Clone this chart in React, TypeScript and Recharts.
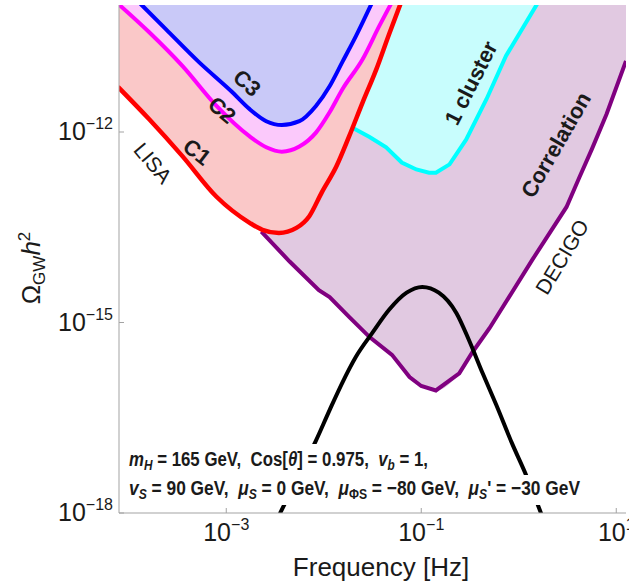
import React from "react";
import { ComposedChart, Area, Line, XAxis, YAxis } from "recharts";

// everything in log10: frequency [Hz] on x, Omega_GW h^2 on y
const X_MIN = -4.1;
const X_MAX = 1.1;
const Y_MIN = -18;
const Y_MAX = -10;

const c1Freq = [-4.11, -3.79, -3.45, -3.1, -2.76, -2.63, -2.46, -2.28, -2.15, -2.02, -1.87, -1.74, -1.6, -1.46, -1.33, -1.21];
const c1Omega = [-11.29, -11.8, -12.38, -13.02, -13.43, -13.54, -13.59, -13.51, -13.33, -12.95, -12.54, -12.07, -11.53, -11.01, -10.46, -9.97];

const c2Freq = [-4.11, -3.79, -3.45, -3.1, -2.76, -2.59, -2.43, -2.25, -2.08, -1.94, -1.81, -1.6, -1.43, -1.31];
const c2Omega = [-9.98, -10.43, -10.96, -11.59, -12.07, -12.24, -12.31, -12.23, -12.01, -11.69, -11.33, -10.85, -10.33, -9.98];

const c3Freq = [-3.88, -3.62, -3.28, -2.94, -2.76, -2.59, -2.43, -2.25, -2.08, -1.94, -1.81, -1.67, -1.51];
const c3Omega = [-9.98, -10.38, -10.9, -11.37, -11.64, -11.83, -11.89, -11.83, -11.59, -11.28, -10.9, -10.49, -9.98];

const clusterFreq = [-1.71, -1.53, -1.36, -1.2, -1.05, -0.92, -0.85, -0.71, -0.54, -0.33, -0.13, 0.19];
const clusterOmega = [-11.93, -12.08, -12.24, -12.48, -12.59, -12.64, -12.64, -12.51, -12.12, -11.48, -10.8, -9.98];

const decigoFreq = [-2.64, -2.35, -2.05, -1.94, -1.74, -1.53, -1.3, -1.12, -1.0, -0.85, -0.61, -0.48, -0.3, -0.1, 0.14, 0.49, 0.62, 0.75, 0.9, 1.1];
const decigoOmega = [-13.57, -14.04, -14.49, -14.6, -14.91, -15.23, -15.51, -15.86, -16.0, -16.07, -15.8, -15.48, -15.09, -14.6, -14.01, -13.18, -12.72, -12.27, -11.72, -10.88];

const signalFreq = [-2.45, -2.25, -2.08, -1.94, -1.81, -1.67, -1.5, -1.33, -1.15, -0.99, -0.82, -0.64, -0.51, -0.37, -0.23, -0.07, 0.08, 0.23];
const signalOmega = [-18.01, -17.39, -16.86, -16.38, -15.95, -15.54, -15.16, -14.8, -14.53, -14.44, -14.53, -14.85, -15.28, -15.8, -16.3, -16.9, -17.42, -18.01];

const bottomTicks = [-3, -1, 1];
const leftTicks = [-18, -15, -12];
const rightTicks = [-17, -16, -15, -14, -13, -12, -11];
const topDecades = [-5, -4, -3, -2, -1, 0, 1];
const minorSteps = [1, 2, 3, 4, 5, 6, 7, 8, 9];

const zip = (xs: number[], ys: number[]) => xs.map((x, i) => ({ x, y: ys[i] }));

const c1 = zip(c1Freq, c1Omega);
const c2 = zip(c2Freq, c2Omega);
const c3 = zip(c3Freq, c3Omega);
const cluster = zip(clusterFreq, clusterOmega);
const decigo = zip(decigoFreq, decigoOmega);
const signal = zip(signalFreq, signalOmega);

const topTicks = topDecades
  .flatMap((d) => minorSteps.map((k) => d + Math.log10(k)))
  .filter((v) => v > X_MIN && v < X_MAX);

const frame = "#a3a3a3";
const ink = "#1a1a1a";
const font = "'Liberation Sans', Arial, sans-serif";

const sup = (v: number) => (v < 0 ? "\u2212" + Math.abs(v) : String(v));

const BottomTick = (props: any) => {
  const { x, y, payload } = props;
  return (
    <g>
      <line x1={x} y1={y} x2={x} y2={y - 5} stroke={frame} />
      <text x={x} y={y + 28} textAnchor="middle" fontSize={25} fill={ink} fontFamily={font}>
        10
        <tspan dy={-11} fontSize={16}>
          {sup(payload.value)}
        </tspan>
      </text>
    </g>
  );
};

const LeftTick = (props: any) => {
  const { x, y, payload } = props;
  return (
    <g>
      <line x1={x} y1={y} x2={x + 5} y2={y} stroke={frame} />
      <text x={x - 6} y={y + 8} textAnchor="end" fontSize={25} fill={ink} fontFamily={font}>
        10
        <tspan dy={-11} fontSize={16}>
          {sup(payload.value)}
        </tspan>
      </text>
    </g>
  );
};

const TopTick = (props: any) => {
  const { x, y, payload } = props;
  const major = Math.abs(payload.value - Math.round(payload.value)) < 1e-6;
  return <line x1={x} y1={y} x2={x} y2={y + (major ? 5 : 3)} stroke={frame} />;
};

const RightTick = (props: any) => {
  const { x, y } = props;
  return <line x1={x} y1={y} x2={x - 5} y2={y} stroke={frame} />;
};

const fillArea = (data: any[], color: string) => (
  <Area
    data={data}
    dataKey="y"
    type="monotone"
    baseValue={Y_MAX}
    fill={color}
    fillOpacity={1}
    stroke="none"
    isAnimationActive={false}
    activeDot={false}
  />
);

const curve = (data: any[], color: string, type: any = "monotone", width = 4) => (
  <Line
    data={data}
    dataKey="y"
    type={type}
    stroke={color}
    strokeWidth={width}
    dot={false}
    activeDot={false}
    isAnimationActive={false}
  />
);

export default function App() {
  return (
    <div style={{ position: "absolute", left: 0, top: 0, width: 629, height: 582, fontFamily: font }}>
      <ComposedChart width={629} height={582} margin={{ top: 5, right: 3, bottom: 0, left: 0 }}>
        <XAxis
          dataKey="x"
          type="number"
          domain={[X_MIN, X_MAX]}
          allowDataOverflow
          ticks={bottomTicks}
          interval={0}
          tick={(p: any) => <BottomTick {...p} />}
          tickLine={false}
          tickSize={0}
          tickMargin={0}
          height={69}
          axisLine={{ stroke: frame }}
        />
        <XAxis
          xAxisId="top"
          orientation="top"
          dataKey="x"
          type="number"
          domain={[X_MIN, X_MAX]}
          allowDataOverflow
          ticks={topTicks}
          interval={0}
          tick={(p: any) => <TopTick {...p} />}
          tickLine={false}
          tickSize={0}
          tickMargin={0}
          height={0}
          axisLine={{ stroke: frame }}
        />
        <YAxis
          type="number"
          domain={[Y_MIN, Y_MAX]}
          allowDataOverflow
          ticks={leftTicks}
          interval={0}
          tick={(p: any) => <LeftTick {...p} />}
          tickLine={false}
          tickSize={0}
          tickMargin={0}
          width={119}
          axisLine={{ stroke: frame }}
        />
        <YAxis
          yAxisId="right"
          orientation="right"
          type="number"
          domain={[Y_MIN, Y_MAX]}
          allowDataOverflow
          ticks={rightTicks}
          interval={0}
          tick={(p: any) => <RightTick {...p} />}
          tickLine={false}
          tickSize={0}
          tickMargin={0}
          width={0}
          axisLine={{ stroke: frame }}
        />

        {fillArea(decigo, "#e1c9e1")}
        {fillArea(cluster, "#c8fdfd")}
        {fillArea(c1, "#fac8c8")}
        {fillArea(c2, "#fbc9fb")}
        {fillArea(c3, "#c9c9f8")}

        {curve(decigo, "#800080", "linear")}
        {curve(cluster, "#00ffff", "linear")}
        {curve(c1, "#ff0000", "monotone", 4.5)}
        {curve(c2, "#ff00ff")}
        {curve(c3, "#0000ff")}
        {curve(signal, "#000000", "monotone", 4)}
      </ComposedChart>

      <svg
        width={629}
        height={582}
        style={{ position: "absolute", left: 0, top: 0, pointerEvents: "none" }}
        fontFamily={font}
      >
        <g fontWeight="bold" fontSize={22} fill={ink} textAnchor="middle" dominantBaseline="central">
          <text x={247} y={83} transform="rotate(42 247 83)">C3</text>
          <text x={222} y={110} transform="rotate(40 222 110)">C2</text>
          <text x={197} y={152} transform="rotate(38 197 152)">C1</text>
          <text x={471} y={83} transform="rotate(-63 471 83)">1 cluster</text>
          <text x={556} y={145} transform="rotate(-60 556 145)">Correlation</text>
        </g>
        <g fontSize={21} fill={ink} textAnchor="middle" dominantBaseline="central">
          <text x={153} y={163} transform="rotate(50 153 163)">LISA</text>
          <text x={562} y={257} transform="rotate(-59 562 257)">DECIGO</text>
        </g>

        <rect x={125} y={444} width={307} height={31} fill="#ffffff" />
        <rect x={125} y={475} width={460} height={30} fill="#ffffff" />
        <g fontWeight="bold" fontSize={20} fill={ink}>
          <text x={129} y={466} textLength={299} lengthAdjust="spacingAndGlyphs" xmlSpace="preserve">
            <tspan fontStyle="italic">m</tspan>
            <tspan fontStyle="italic" fontSize={14} dy={4}>H</tspan>
            <tspan dy={-4}>{" = 165 GeV,  Cos["}</tspan>
            <tspan fontStyle="italic">θ</tspan>
            <tspan>{"] = 0.975,  "}</tspan>
            <tspan fontStyle="italic">v</tspan>
            <tspan fontStyle="italic" fontSize={14} dy={4}>b</tspan>
            <tspan dy={-4}>{" = 1,"}</tspan>
          </text>
          <text x={129} y={495} textLength={451} lengthAdjust="spacingAndGlyphs" xmlSpace="preserve">
            <tspan fontStyle="italic">v</tspan>
            <tspan fontStyle="italic" fontSize={14} dy={4}>S</tspan>
            <tspan dy={-4}>{" = 90 GeV,  "}</tspan>
            <tspan fontStyle="italic">μ</tspan>
            <tspan fontStyle="italic" fontSize={14} dy={4}>S</tspan>
            <tspan dy={-4}>{" = 0 GeV,  "}</tspan>
            <tspan fontStyle="italic">μ</tspan>
            <tspan fontSize={14} dy={4}>ΦS</tspan>
            <tspan dy={-4}>{" = \u221280 GeV,  "}</tspan>
            <tspan fontStyle="italic">μ</tspan>
            <tspan fontStyle="italic" fontSize={14} dy={4}>S</tspan>
            <tspan dy={-4}>{"' = \u221230 GeV"}</tspan>
          </text>
        </g>

        <text x={381} y={576} textAnchor="middle" fontSize={26} fill={ink}>
          Frequency [Hz]
        </text>
        <text x={40} y={268} textAnchor="middle" fontSize={26} fill={ink} transform="rotate(-90 40 268)">
          Ω
          <tspan fontSize={17} dy={5}>GW</tspan>
          <tspan dy={-5} fontStyle="italic">h</tspan>
          <tspan fontSize={17} dy={-10}>2</tspan>
        </text>
      </svg>
    </div>
  );
}
